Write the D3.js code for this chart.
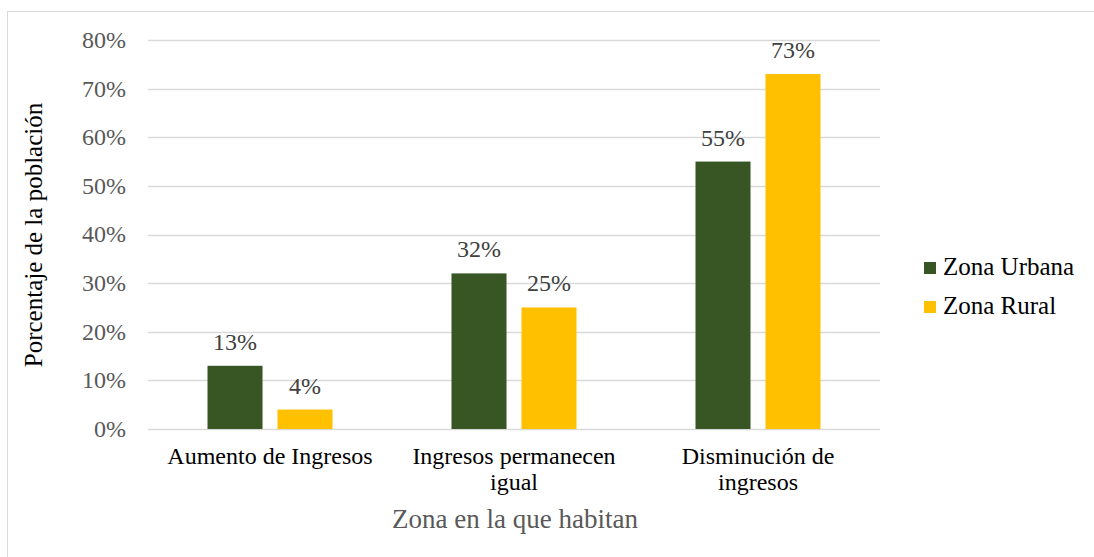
<!DOCTYPE html>
<html>
<head>
<meta charset="utf-8">
<script src="https://cdn.jsdelivr.net/npm/d3@7"></script>
<style>
  body { margin: 0; background: #fff; }
</style>
</head>
<body>
<script>
// data
const categories = [["Aumento de Ingresos"], ["Ingresos permanecen", "igual"], ["Disminución de", "ingresos"]];
const seriesNames = ["Zona Urbana", "Zona Rural"];
const urbana = [13, 32, 55];
const rural = [4, 25, 73];
const colors = ["#375623", "#FFC000"];
const yTicks = [0, 10, 20, 30, 40, 50, 60, 70, 80];

const W = 1094, H = 557;
const svg = d3.select("body").append("svg").attr("width", W).attr("height", H)
  .attr("font-family", "'Liberation Serif', 'DejaVu Serif', serif");

// outer frame
svg.append("rect").attr("x", 7.5).attr("y", 11.5).attr("width", W).attr("height", H)
  .attr("fill", "none").attr("stroke", "#d9d9d9");

const plotL = 148, plotR = 880, plotT = 40, plotB = 429;

const x = d3.scaleBand().domain(d3.range(categories.length)).range([plotL, plotR]);
const xs = d3.scaleBand().domain(d3.range(seriesNames.length)).range([0, x.bandwidth()])
  .paddingInner(0.214).paddingOuter(0.85);
const y = d3.scaleLinear().domain([0, 80]).range([plotB, plotT]);

// gridlines
svg.append("g").selectAll("line").data(yTicks).join("line")
  .attr("x1", plotL).attr("x2", plotR)
  .attr("y1", d => Math.round(y(d)) + 0.5).attr("y2", d => Math.round(y(d)) + 0.5)
  .attr("stroke", "#d9d9d9").attr("stroke-width", 1.3);

// y tick labels
svg.append("g").selectAll("text").data(yTicks).join("text")
  .attr("x", 126).attr("y", d => y(d)).attr("dy", "0.33em")
  .attr("text-anchor", "end").attr("font-size", 24).attr("fill", "#595959")
  .text(d => d + "%");

// bars
const series = [urbana, rural];
series.forEach((vals, si) => {
  const g = svg.append("g");
  g.selectAll("rect").data(vals).join("rect")
    .attr("x", (d, i) => x(i) + xs(si))
    .attr("y", d => y(d))
    .attr("width", xs.bandwidth())
    .attr("height", d => y(0) - y(d))
    .attr("fill", colors[si]);
  g.selectAll("text").data(vals).join("text")
    .attr("x", (d, i) => x(i) + xs(si) + xs.bandwidth() / 2)
    .attr("y", d => y(d) - 16)
    .attr("text-anchor", "middle").attr("font-size", 24).attr("fill", "#404040")
    .text(d => d + "%");
});

// category labels
const cat = svg.append("g").selectAll("text").data(categories).join("text")
  .attr("x", (d, i) => x(i) + x.bandwidth() / 2)
  .attr("y", 464)
  .attr("text-anchor", "middle").attr("font-size", 24).attr("fill", "#000");
cat.selectAll("tspan").data(d => d).join("tspan")
  .attr("x", function() { return d3.select(this.parentNode).attr("x"); })
  .attr("dy", (d, i) => i === 0 ? 0 : 26)
  .text(d => d);

// axis titles
svg.append("text").attr("x", 515).attr("y", 528)
  .attr("text-anchor", "middle").attr("font-size", 27).attr("fill", "#595959")
  .text("Zona en la que habitan");

svg.append("text").attr("transform", "translate(42,235) rotate(-90)")
  .attr("text-anchor", "middle").attr("font-size", 25).attr("fill", "#000")
  .text("Porcentaje de la población");

// legend
const leg = svg.append("g").selectAll("g").data(seriesNames).join("g")
  .attr("transform", (d, i) => `translate(924,${275 + i * 39})`);
leg.append("rect").attr("x", 0).attr("y", -13).attr("width", 12).attr("height", 12)
  .attr("fill", (d, i) => colors[i]);
leg.append("text").attr("x", 19).attr("y", 0)
  .attr("font-size", 25).attr("fill", "#000").text(d => d);
</script>
</body>
</html>
